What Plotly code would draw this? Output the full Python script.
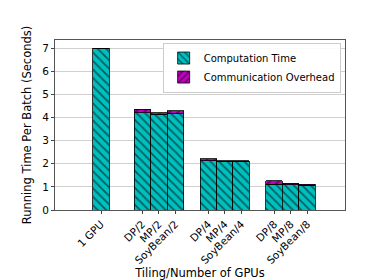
import plotly.graph_objects as go

categories = ["1 GPU", "DP/2", "MP/2", "SoyBean/2", "DP/4", "MP/4", "SoyBean/4", "DP/8", "MP/8", "SoyBean/8"]
positions = [0, 2.5, 3.5, 4.5, 6.5, 7.5, 8.5, 10.5, 11.5, 12.5]
computation = [7.0, 4.21, 4.13, 4.17, 2.12, 2.10, 2.11, 1.12, 1.10, 1.08]
communication = [0.0, 0.14, 0.08, 0.12, 0.10, 0.02, 0.03, 0.14, 0.05, 0.03]
y_ticks = [0, 1, 2, 3, 4, 5, 6, 7]

font = "DejaVu Sans"
fig = go.Figure()
fig.add_trace(go.Bar(
    x=positions, y=computation, width=1, name="Computation Time",
    marker=dict(color="#00BFBF", line=dict(color="black", width=0.8),
                pattern=dict(shape="\\", fgcolor="black", size=6, solidity=0.3)),
))
fig.add_trace(go.Bar(
    x=positions, y=communication, width=1, name="Communication Overhead",
    marker=dict(color="#BF00BF", line=dict(color="black", width=0.8),
                pattern=dict(shape="/", fgcolor="black", size=6, solidity=0.3)),
))
fig.update_layout(
    barmode="stack",
    width=374, height=280,
    margin=dict(l=47, r=37, t=32, b=70),
    paper_bgcolor="white", plot_bgcolor="white",
    font=dict(family=font, size=10.5, color="black"),
    showlegend=True,
    legend=dict(x=0.985, y=0.985, xanchor="right", yanchor="top", traceorder="normal",
                bgcolor="rgba(255,255,255,0.9)", bordercolor="#cccccc", borderwidth=1,
                font=dict(size=10), tracegroupgap=0, itemwidth=30),
    xaxis=dict(range=[-2.79, 14.79], tickvals=positions, ticktext=categories,
               tickangle=-45, ticks="outside", ticklen=3, tickcolor="#444",
               showgrid=False, zeroline=False,
               showline=True, linecolor="#555", linewidth=1, mirror=True,
               title=dict(text="Tiling/Number of GPUs", font=dict(size=11.5), standoff=2)),
    yaxis=dict(range=[0, 7.35], tickvals=y_ticks, ticks="outside", ticklen=3, tickcolor="#444",
               showgrid=True, gridcolor="#d0d0d0", gridwidth=1, zeroline=False,
               showline=True, linecolor="#555", linewidth=1, mirror=True,
               title=dict(text="Running Time Per Batch (Seconds)", font=dict(size=11.5), standoff=8)),
)
fig.write_html("out.html")
